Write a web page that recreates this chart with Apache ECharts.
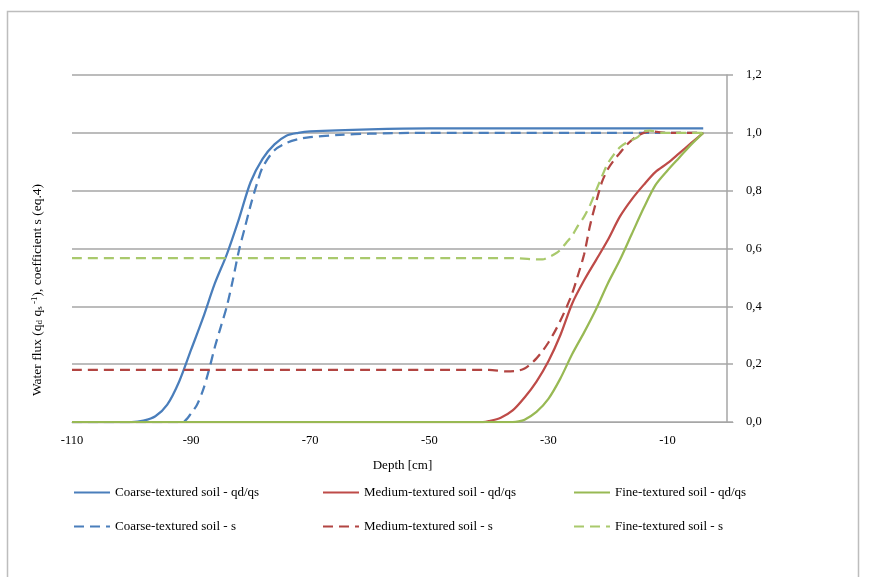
<!DOCTYPE html>
<html>
<head>
<meta charset="utf-8">
<script src="https://cdn.jsdelivr.net/npm/echarts@6/dist/echarts.min.js"></script>
<style>
  html, body { margin: 0; padding: 0; background: #fff; }
  #chartBox { width: 872px; height: 577px; }
</style>
</head>
<body>
<div id="chartBox"></div>
<script>
// depth [cm] and values
var coarseQdDepth = [-110, -100, -98, -96, -94, -92, -90, -88, -86, -84, -82, -80, -78, -76, -74, -72, -70, -60, -50, -4];
var coarseQdVal   = [0, 0, 0.005, 0.02, 0.06, 0.14, 0.25, 0.36, 0.48, 0.58, 0.70, 0.83, 0.91, 0.96, 0.99, 1.0, 1.005, 1.012, 1.015, 1.015];

var coarseSDepth = [-110, -92, -91, -90, -89, -88, -87, -86, -85, -84, -83, -82, -81, -80, -79, -78, -76, -74, -72, -70, -65, -60, -50, -4];
var coarseSVal   = [0, 0, 0.005, 0.03, 0.06, 0.11, 0.18, 0.26, 0.33, 0.40, 0.49, 0.59, 0.67, 0.75, 0.82, 0.88, 0.94, 0.965, 0.978, 0.985, 0.993, 0.997, 1.0, 1.0];

var mediumQdDepth = [-110, -41, -40, -38, -36, -34, -32, -30, -28, -26, -24, -22, -20, -18, -16, -14, -12, -10, -8, -6, -4];
var mediumQdVal   = [0, 0, 0.003, 0.015, 0.04, 0.085, 0.14, 0.21, 0.30, 0.41, 0.49, 0.56, 0.63, 0.71, 0.77, 0.82, 0.865, 0.895, 0.93, 0.965, 1.0];

var mediumSDepth = [-110, -40, -37, -35, -34, -33, -32, -31, -30, -29, -28, -27, -26, -25, -24, -23, -22, -21, -20, -19, -18, -17, -16, -15, -14, -13, -10, -4];
var mediumSVal   = [0.18, 0.18, 0.175, 0.178, 0.185, 0.2, 0.22, 0.245, 0.275, 0.31, 0.35, 0.395, 0.445, 0.51, 0.58, 0.68, 0.76, 0.83, 0.875, 0.905, 0.93, 0.955, 0.975, 0.99, 1.0, 1.005, 1.0, 1.0];

var fineQdDepth = [-110, -36, -35, -34, -32, -30, -28, -26, -24, -22, -20, -18, -16, -14, -12, -10, -8, -6, -4];
var fineQdVal   = [0, 0, 0.002, 0.008, 0.035, 0.08, 0.15, 0.235, 0.31, 0.39, 0.48, 0.56, 0.65, 0.74, 0.82, 0.87, 0.915, 0.96, 1.0];

var fineSDepth = [-110, -36, -33, -31, -30, -29, -28, -27, -26, -25, -24, -23, -22, -21, -20, -19, -18, -17, -16, -15, -14, -13, -11, -4];
var fineSVal   = [0.567, 0.567, 0.563, 0.562, 0.57, 0.58, 0.595, 0.62, 0.645, 0.68, 0.71, 0.75, 0.80, 0.85, 0.895, 0.925, 0.95, 0.965, 0.975, 0.985, 1.005, 1.008, 1.0, 1.0];

var seriesNames = [
  "Coarse-textured soil - qd/qs", "Coarse-textured soil - s",
  "Medium-textured soil - qd/qs", "Medium-textured soil - s",
  "Fine-textured soil - qd/qs", "Fine-textured soil - s"
];

var font = "Liberation Serif";

function pairs(xs, ys) {
  return xs.map(function (x, i) { return [x, ys[i]]; });
}

function mkLine(name, xs, ys, color, dashed) {
  return {
    name: name,
    type: "line",
    data: pairs(xs, ys),
    symbol: "none",
    smooth: 0.3,
    lineStyle: { color: color, width: 2.25, type: dashed ? [10, 6] : "solid" },
    itemStyle: { color: color }
  };
}

function mkLegend(left, names) {
  return {
    orient: "vertical",
    left: left,
    top: 486,
    padding: 0,
    itemWidth: 36,
    itemHeight: 14,
    itemGap: 21,
    data: names,
    itemStyle: { opacity: 0 },
    textStyle: { fontFamily: font, fontSize: 13, color: "#000" }
  };
}

var chart = echarts.init(document.getElementById("chartBox"));
var option = {
  animation: false,
  backgroundColor: "#fff",
  grid: { left: 72, right: 139, top: 75, bottom: 155 },
  legend: [
    mkLegend(73, [seriesNames[0], seriesNames[1]]),
    mkLegend(322, [seriesNames[2], seriesNames[3]]),
    mkLegend(573, [seriesNames[4], seriesNames[5]])
  ],
  graphic: [
    {
      type: "rect",
      shape: { x: 7.5, y: 11.5, width: 851, height: 580 },
      style: { fill: "none", stroke: "#bdbdbd", lineWidth: 1.5 },
      silent: true
    },
    {
      type: "text",
      x: 37,
      y: 290,
      rotation: Math.PI / 2,
      style: {
        text: "Water flux (q{sub|d} q{sub|s}{sup| -1}), coefficient s (eq.4)",
        fontFamily: font,
        fontSize: 13.5,
        fill: "#000",
        align: "center",
        verticalAlign: "middle",
        rich: {
          sub: { fontFamily: font, fontSize: 9, fill: "#000", verticalAlign: "bottom", padding: [4, 0, 0, 0] },
          sup: { fontFamily: font, fontSize: 9, fill: "#000", verticalAlign: "top", padding: [0, 0, 5, 0] }
        }
      }
    }
  ],
  xAxis: {
    type: "value",
    min: -110,
    max: 1,
    interval: 20,
    name: "Depth [cm]",
    nameLocation: "middle",
    nameGap: 37,
    nameTextStyle: { fontFamily: font, fontSize: 13, color: "#000" },
    axisLine: { show: true, lineStyle: { color: "#a6a6a6", width: 1 } },
    axisTick: { show: false },
    splitLine: { show: false },
    axisLabel: { fontFamily: font, fontSize: 12.5, color: "#000", margin: 12, showMaxLabel: false }
  },
  yAxis: {
    type: "value",
    position: "right",
    min: 0,
    max: 1.2,
    interval: 0.2,
    axisLine: { show: true, lineStyle: { color: "#a6a6a6", width: 1.5 } },
    axisTick: { show: false },
    splitLine: { show: true, lineStyle: { color: "#a6a6a6", width: 1.5 } },
    axisLabel: {
      fontFamily: font, fontSize: 12.5, color: "#000", margin: 13,
      formatter: function (v) { return v.toFixed(1).replace(".", ","); }
    }
  },
  series: [
    mkLine(seriesNames[0], coarseQdDepth, coarseQdVal, "#4A7EBB", false),
    mkLine(seriesNames[1], coarseSDepth, coarseSVal, "#4A7EBB", true),
    mkLine(seriesNames[2], mediumQdDepth, mediumQdVal, "#BE4B48", false),
    mkLine(seriesNames[3], mediumSDepth, mediumSVal, "#B24542", true),
    mkLine(seriesNames[4], fineQdDepth, fineQdVal, "#98B954", false),
    mkLine(seriesNames[5], fineSDepth, fineSVal, "#A9C96C", true)
  ]
};
chart.setOption(option);
</script>
</body>
</html>
